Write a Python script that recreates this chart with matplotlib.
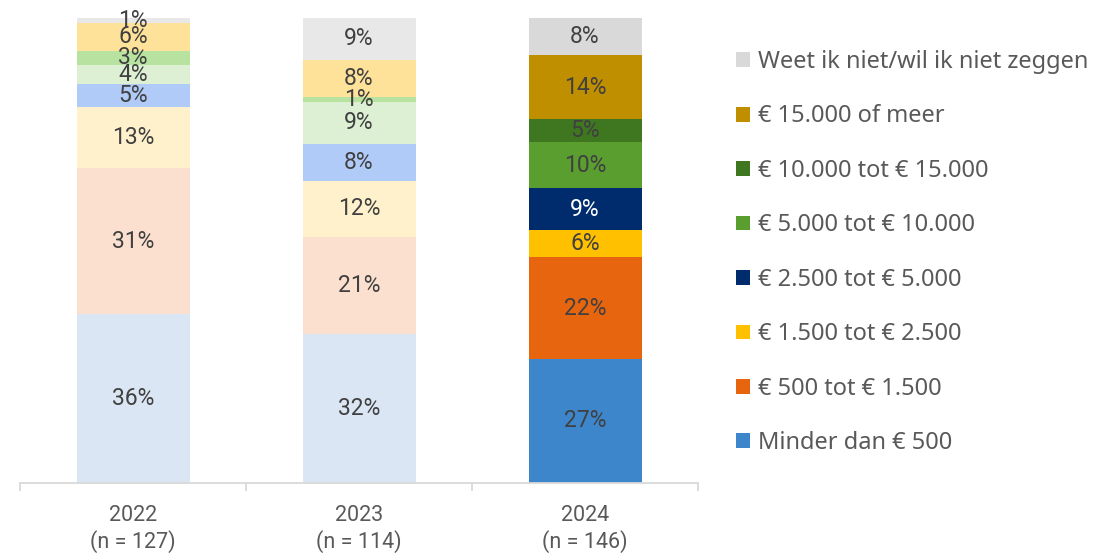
import matplotlib
matplotlib.use("Agg")
import matplotlib.pyplot as plt
from matplotlib.patches import Patch
import numpy as np

years = ["2022\n(n = 127)", "2023\n(n = 114)", "2024\n(n = 146)"]
categories = ["Minder dan € 500", "€ 500 tot € 1.500", "€ 1.500 tot € 2.500",
              "€ 2.500 tot € 5.000", "€ 5.000 tot € 10.000", "€ 10.000 tot € 15.000",
              "€ 15.000 of meer", "Weet ik niet/wil ik niet zeggen"]
values_2022 = [36, 31, 13, 5, 4, 3, 6, 1]
values_2023 = [32, 21, 12, 8, 9, 1, 8, 9]
values_2024 = [27, 22, 6, 9, 10, 5, 14, 8]

pale_colors = ["#DAE6F3", "#FBE0D0", "#FFF1CC", "#B1CBF9", "#DDF0D3", "#B8E2A0", "#FFE299", "#E8E8E8"]
full_colors = ["#3D86CB", "#E8650F", "#FFC000", "#002C6E", "#5A9E2F", "#3F7620", "#BF8F00", "#D9D9D9"]
label_colors_2024 = ["#404040", "#404040", "#404040", "#FFFFFF", "#404040", "#404040", "#404040", "#404040"]

fig = plt.figure(figsize=(10.94, 5.53), dpi=100)
ax = fig.add_axes([20/1094, 70/553, 678/1094, 465/553])

data = [values_2022, values_2023, values_2024]
x = np.arange(len(years))
bar_font = dict(family="Roboto", size=16.5)
for i, vals in enumerate(data):
    total = sum(vals)
    bottom = 0.0
    for j, v in enumerate(vals):
        h = v / total * 100  # 100% stacked
        col = full_colors[j] if i == 2 else pale_colors[j]
        ax.bar(x[i], h, width=0.5, bottom=bottom, color=col, linewidth=0, clip_on=False)
        tcol = label_colors_2024[j] if i == 2 else "#404040"
        ax.text(x[i], bottom + h / 2, f"{v}%", ha="center", va="center",
                color=tcol, **bar_font)
        bottom += h

ax.set_xlim(-0.5, 2.5)
ax.set_ylim(0, 100)
ax.set_yticks([])
for s in ["top", "right", "left"]:
    ax.spines[s].set_visible(False)
ax.spines["bottom"].set_color("#D9D9D9")
ax.spines["bottom"].set_linewidth(1.3)
ax.set_xticks(x)
ax.set_xticklabels(years, fontfamily="Roboto", fontsize=15.5, color="#595959", linespacing=1.22)
ax.tick_params(axis="x", which="major", length=0, pad=16)
ax.set_xticks([-0.5, 0.5, 1.5, 2.5], minor=True)
ax.tick_params(axis="x", which="minor", length=6, color="#D9D9D9", width=1.3)

handles = [Patch(facecolor=full_colors[j], edgecolor="none", label=categories[j])
           for j in range(len(categories))][::-1]
leg = fig.legend(handles=handles, loc="upper left", bbox_to_anchor=(736/1094, 1 - 50/553),
                 frameon=False, prop=dict(family="Noto Sans", size=17),
                 labelspacing=1.29, handlelength=0.59, handleheight=0.59,
                 handletextpad=0.34, borderaxespad=0, borderpad=0)
for t in leg.get_texts():
    t.set_color("#595959")

fig.savefig("out.png", dpi=100)
